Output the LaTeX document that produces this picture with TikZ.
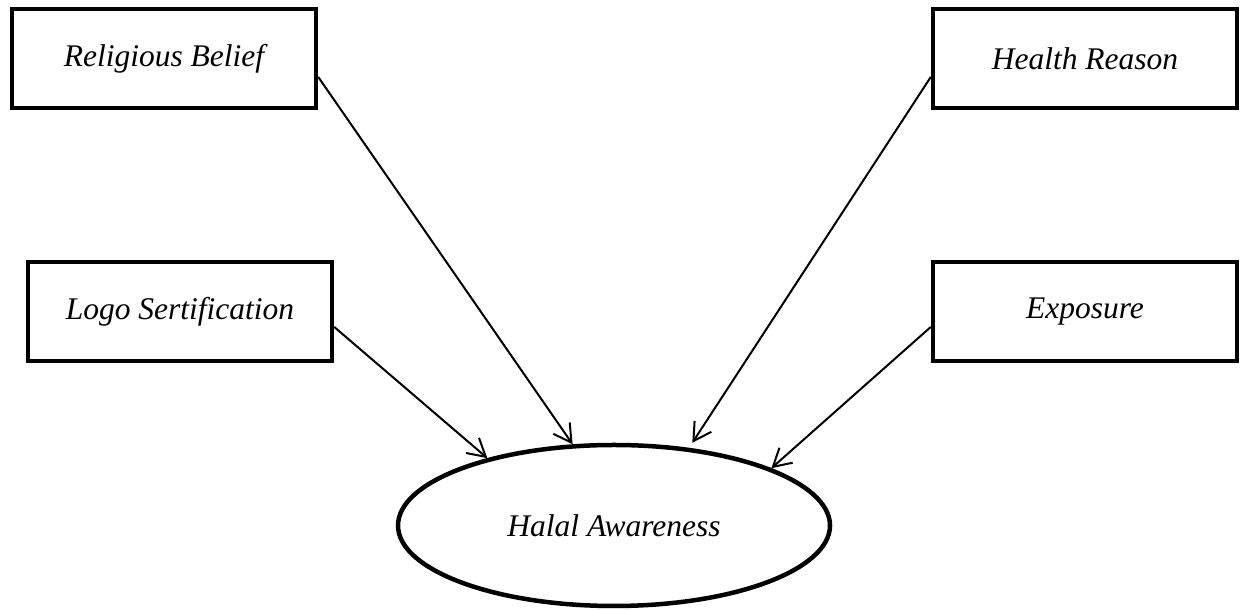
\documentclass[tikz,border=0pt]{standalone}
\usepackage{fontspec}
\setmainfont{Liberation Serif}
\usepackage{tikz}
\usetikzlibrary{shapes.geometric, arrows.meta, positioning}
\tikzstyle{factor} = [rectangle, minimum width=121.6pt, minimum height=39.6pt, text centered, draw=black, line width=1.8pt, font=\fontsize{12.6}{15}\selectfont\itshape]
\tikzstyle{construct} = [ellipse, minimum width=172.8pt, minimum height=64.4pt, text centered, draw=black, line width=1.8pt, font=\fontsize{12.6}{15}\selectfont\itshape]
\tikzstyle{arrow} = [line width=0.8pt,-{Straight Barb[length=7pt,width=8pt]}]

\begin{document}
\begin{tikzpicture}[x=0.4pt, y=-0.4pt]
        \useasboundingbox (0,0) rectangle (1240,610);

        % Nodes
        \node (religion) [factor] at (164,58.5) {Religious Belief};
        \node (health) [factor] at (1085,58.5) {Health Reason};
        \node (logo) [factor] at (180,311.5) {Logo Sertification};
        \node (exposure) [factor] at (1085,311.5) {Exposure};

        \node (aware) [construct] at (614,525.5) {Halal Awareness};

        % Arrows
        \draw [arrow] ([yshift=-7.4pt]religion.east) -- (aware.117);
        \draw [arrow, shorten >=2.4pt] ([yshift=-7.4pt]health.west) -- (aware.46);
        \draw [arrow] ([yshift=-6.2pt]logo.east) -- (aware.152);
        \draw [arrow] ([yshift=-6.2pt]exposure.west) -- (aware.20);

    \end{tikzpicture}
\end{document}
